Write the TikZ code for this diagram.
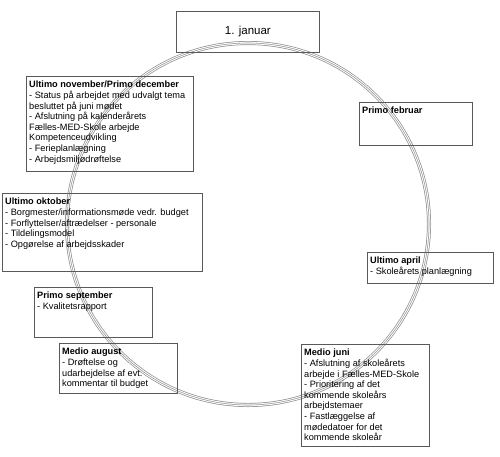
\documentclass[tikz,border=0pt]{standalone}
\usepackage{fontspec}
\setmainfont{Liberation Sans}
\usetikzlibrary{calc}
\begin{document}
\begin{tikzpicture}[x=1pt,y=1pt,
  boxst/.style={draw=black!65, line width=0.8pt, inner sep=0pt, anchor=north west},
  txt/.style={inner sep=0pt, anchor=north west, align=left, font=\fontsize{9.2}{10.6}\selectfont},
  ringa/.style={draw=black!45, line width=4pt},
  ringb/.style={draw=white, line width=2.6pt},
  ringc/.style={draw=black!40, line width=0.6pt}]
\useasboundingbox (0,0) rectangle (500,-456);
% ring
\coordinate (ctr) at (248,-224);
\draw[ringa] (ctr) circle (181pt);
\draw[ringb] (ctr) circle (181pt);
\draw[ringc] (ctr) circle (181pt);
% boxes
\node[boxst, minimum width=143pt, minimum height=41pt] (jan) at (176,-11) {};
\node[font=\fontsize{11.5}{13}\selectfont, inner sep=0pt] (jant) at (jan.center) {1. januar};

\node[boxst, minimum width=167pt, minimum height=95pt] (nov) at (26,-76) {};
\node[txt] (novt) at ($(nov.north west)+(3,-5)$) {\textbf{Ultimo november/Primo december}\\- Status på arbejdet med udvalgt tema\\besluttet på juni mødet\\- Afslutning på kalenderårets\\Fælles-MED-Skole arbejde\\Kompetenceudvikling\\- Ferieplanlægning\\- Arbejdsmiljødrøftelse};

\node[boxst, minimum width=200pt, minimum height=78pt] (okt) at (2,-193) {};
\node[txt] (oktt) at ($(okt.north west)+(3,-5)$) {\textbf{Ultimo oktober}\\- Borgmester/informationsmøde vedr. budget\\- Forflyttelser/aftrædelser - personale\\- Tildelingsmodel\\- Opgørelse af arbejdsskader};

\node[boxst, minimum width=118pt, minimum height=50pt] (sep) at (34,-287) {};
\node[txt] (sept) at ($(sep.north west)+(3,-5)$) {\textbf{Primo september}\\- Kvalitetsrapport};

\node[boxst, minimum width=118pt, minimum height=50pt] (aug) at (59,-343) {};
\node[txt] (augt) at ($(aug.north west)+(3,-5)$) {\textbf{Medio august}\\- Drøftelse og\\udarbejdelse af evt.\\kommentar til budget};

\node[boxst, minimum width=128pt, minimum height=102pt] (jun) at (301,-344) {};
\node[txt] (junt) at ($(jun.north west)+(3,-5)$) {\textbf{Medio juni}\\- Afslutning af skoleårets\\arbejde i Fælles-MED-Skole\\- Prioritering af det\\kommende skoleårs\\arbejdstemaer\\- Fastlæggelse af\\mødedatoer for det\\kommende skoleår};

\node[boxst, minimum width=113pt, minimum height=43pt] (feb) at (359,-102) {};
\node[txt] (febt) at ($(feb.north west)+(3,-5)$) {\textbf{Primo februar}};

\node[boxst, minimum width=126pt, minimum height=31pt] (apr) at (367,-252) {};
\node[txt] (aprt) at ($(apr.north west)+(3,-5)$) {\textbf{Ultimo april}\\- Skoleårets planlægning};
\end{tikzpicture}
\end{document}
